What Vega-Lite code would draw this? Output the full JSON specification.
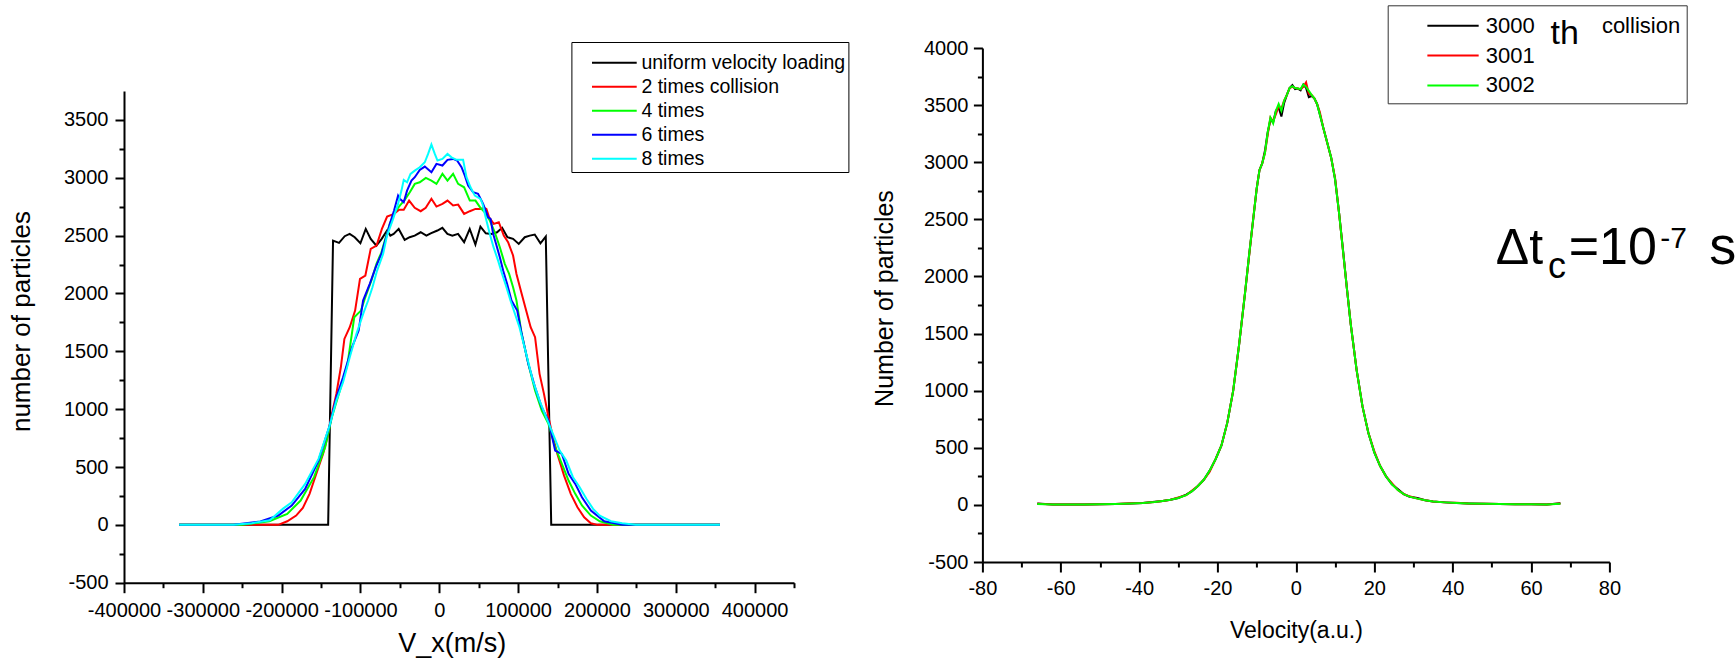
{
  "$schema": "https://vega.github.io/schema/vega-lite/v6.json",
  "autosize": {"type": "pad"},
  "padding": {"left": 8, "top": 4, "right": 0, "bottom": 14},
  "background": "white",
  "bounds": "flush",
  "spacing": 188.4,
  "config": {
    "view": {"stroke": null},
    "font": "Liberation Sans",
    "axis": {
      "domainColor": "black", "tickColor": "black", "labelColor": "black", "titleColor": "black",
      "titleFontWeight": "normal", "grid": false, "domainWidth": 2, "tickWidth": 2,
      "labelFlush": false, "labelOverlap": false, "labelFont": "Liberation Sans", "titleFont": "Liberation Sans"
    },
    "legend": {"labelFont": "Liberation Sans", "labelColor": "black"}
  },
  "resolve": {"scale": {"color": "independent"}, "legend": {"color": "independent"}},
  "datasets": {
    "left": [
      {"series": "uniform velocity loading", "v": -330000, "n": 0},
      {"series": "uniform velocity loading", "v": -141000, "n": 0},
      {"series": "uniform velocity loading", "v": -134800, "n": 2457},
      {"series": "uniform velocity loading", "v": -127200, "n": 2437},
      {"series": "uniform velocity loading", "v": -120000, "n": 2495},
      {"series": "uniform velocity loading", "v": -113700, "n": 2515},
      {"series": "uniform velocity loading", "v": -107300, "n": 2486},
      {"series": "uniform velocity loading", "v": -100100, "n": 2434},
      {"series": "uniform velocity loading", "v": -93300, "n": 2558},
      {"series": "uniform velocity loading", "v": -87000, "n": 2472},
      {"series": "uniform velocity loading", "v": -79800, "n": 2414},
      {"series": "uniform velocity loading", "v": -73100, "n": 2472},
      {"series": "uniform velocity loading", "v": -66300, "n": 2544},
      {"series": "uniform velocity loading", "v": -62100, "n": 2500},
      {"series": "uniform velocity loading", "v": -57900, "n": 2515},
      {"series": "uniform velocity loading", "v": -51500, "n": 2558},
      {"series": "uniform velocity loading", "v": -43900, "n": 2463},
      {"series": "uniform velocity loading", "v": -37600, "n": 2486},
      {"series": "uniform velocity loading", "v": -31200, "n": 2500},
      {"series": "uniform velocity loading", "v": -23600, "n": 2529},
      {"series": "uniform velocity loading", "v": -16400, "n": 2500},
      {"series": "uniform velocity loading", "v": -10900, "n": 2520},
      {"series": "uniform velocity loading", "v": -2400, "n": 2544},
      {"series": "uniform velocity loading", "v": 3900, "n": 2567},
      {"series": "uniform velocity loading", "v": 10300, "n": 2515},
      {"series": "uniform velocity loading", "v": 16600, "n": 2500},
      {"series": "uniform velocity loading", "v": 23800, "n": 2515},
      {"series": "uniform velocity loading", "v": 31500, "n": 2443},
      {"series": "uniform velocity loading", "v": 38600, "n": 2558},
      {"series": "uniform velocity loading", "v": 45800, "n": 2423},
      {"series": "uniform velocity loading", "v": 52200, "n": 2578},
      {"series": "uniform velocity loading", "v": 59000, "n": 2520},
      {"series": "uniform velocity loading", "v": 66100, "n": 2515},
      {"series": "uniform velocity loading", "v": 73300, "n": 2529},
      {"series": "uniform velocity loading", "v": 79700, "n": 2567},
      {"series": "uniform velocity loading", "v": 86400, "n": 2486},
      {"series": "uniform velocity loading", "v": 93600, "n": 2472},
      {"series": "uniform velocity loading", "v": 100800, "n": 2428},
      {"series": "uniform velocity loading", "v": 108400, "n": 2486},
      {"series": "uniform velocity loading", "v": 114800, "n": 2500},
      {"series": "uniform velocity loading", "v": 121100, "n": 2509},
      {"series": "uniform velocity loading", "v": 128300, "n": 2434},
      {"series": "uniform velocity loading", "v": 135100, "n": 2492},
      {"series": "uniform velocity loading", "v": 142000, "n": 0},
      {"series": "uniform velocity loading", "v": 356000, "n": 0},

      {"series": "2 times collision", "v": -330000, "n": 0},
      {"series": "2 times collision", "v": -204300, "n": 0},
      {"series": "2 times collision", "v": -192900, "n": 31},
      {"series": "2 times collision", "v": -181600, "n": 80},
      {"series": "2 times collision", "v": -173100, "n": 147},
      {"series": "2 times collision", "v": -164600, "n": 268},
      {"series": "2 times collision", "v": -158900, "n": 383},
      {"series": "2 times collision", "v": -147500, "n": 613},
      {"series": "2 times collision", "v": -141900, "n": 757},
      {"series": "2 times collision", "v": -136300, "n": 959},
      {"series": "2 times collision", "v": -130600, "n": 1132},
      {"series": "2 times collision", "v": -124900, "n": 1362},
      {"series": "2 times collision", "v": -120400, "n": 1607},
      {"series": "2 times collision", "v": -113600, "n": 1708},
      {"series": "2 times collision", "v": -106800, "n": 1852},
      {"series": "2 times collision", "v": -100600, "n": 2127},
      {"series": "2 times collision", "v": -93800, "n": 2155},
      {"series": "2 times collision", "v": -87000, "n": 2386},
      {"series": "2 times collision", "v": -79600, "n": 2414},
      {"series": "2 times collision", "v": -72800, "n": 2558},
      {"series": "2 times collision", "v": -66200, "n": 2665},
      {"series": "2 times collision", "v": -57400, "n": 2688},
      {"series": "2 times collision", "v": -51000, "n": 2723},
      {"series": "2 times collision", "v": -45100, "n": 2723},
      {"series": "2 times collision", "v": -38300, "n": 2803},
      {"series": "2 times collision", "v": -31200, "n": 2740},
      {"series": "2 times collision", "v": -23600, "n": 2711},
      {"series": "2 times collision", "v": -17200, "n": 2740},
      {"series": "2 times collision", "v": -10000, "n": 2818},
      {"series": "2 times collision", "v": -3600, "n": 2751},
      {"series": "2 times collision", "v": 4000, "n": 2774},
      {"series": "2 times collision", "v": 10400, "n": 2803},
      {"series": "2 times collision", "v": 17500, "n": 2760},
      {"series": "2 times collision", "v": 23900, "n": 2768},
      {"series": "2 times collision", "v": 31500, "n": 2688},
      {"series": "2 times collision", "v": 38700, "n": 2711},
      {"series": "2 times collision", "v": 45900, "n": 2731},
      {"series": "2 times collision", "v": 52200, "n": 2731},
      {"series": "2 times collision", "v": 56800, "n": 2740},
      {"series": "2 times collision", "v": 59800, "n": 2731},
      {"series": "2 times collision", "v": 63200, "n": 2659},
      {"series": "2 times collision", "v": 69100, "n": 2601},
      {"series": "2 times collision", "v": 75500, "n": 2616},
      {"series": "2 times collision", "v": 81800, "n": 2500},
      {"series": "2 times collision", "v": 87300, "n": 2443},
      {"series": "2 times collision", "v": 93600, "n": 2328},
      {"series": "2 times collision", "v": 97900, "n": 2169},
      {"series": "2 times collision", "v": 104500, "n": 1997},
      {"series": "2 times collision", "v": 110200, "n": 1852},
      {"series": "2 times collision", "v": 115900, "n": 1708},
      {"series": "2 times collision", "v": 121500, "n": 1622},
      {"series": "2 times collision", "v": 127200, "n": 1305},
      {"series": "2 times collision", "v": 132800, "n": 1132},
      {"series": "2 times collision", "v": 138500, "n": 930},
      {"series": "2 times collision", "v": 144200, "n": 757},
      {"series": "2 times collision", "v": 149800, "n": 613},
      {"series": "2 times collision", "v": 158300, "n": 426},
      {"series": "2 times collision", "v": 166800, "n": 268},
      {"series": "2 times collision", "v": 175300, "n": 152},
      {"series": "2 times collision", "v": 183800, "n": 66},
      {"series": "2 times collision", "v": 192300, "n": 14},
      {"series": "2 times collision", "v": 200800, "n": 0},
      {"series": "2 times collision", "v": 356000, "n": 0},

      {"series": "4 times", "v": -330000, "n": 0},
      {"series": "4 times", "v": -250000, "n": 0},
      {"series": "4 times", "v": -215600, "n": 31},
      {"series": "4 times", "v": -192900, "n": 95},
      {"series": "4 times", "v": -175900, "n": 210},
      {"series": "4 times", "v": -158900, "n": 412},
      {"series": "4 times", "v": -144800, "n": 671},
      {"series": "4 times", "v": -136300, "n": 930},
      {"series": "4 times", "v": -124900, "n": 1189},
      {"series": "4 times", "v": -116400, "n": 1391},
      {"series": "4 times", "v": -107900, "n": 1794},
      {"series": "4 times", "v": -99400, "n": 1852},
      {"series": "4 times", "v": -94600, "n": 1953},
      {"series": "4 times", "v": -86100, "n": 2112},
      {"series": "4 times", "v": -79700, "n": 2256},
      {"series": "4 times", "v": -73400, "n": 2356},
      {"series": "4 times", "v": -67900, "n": 2486},
      {"series": "4 times", "v": -62800, "n": 2601},
      {"series": "4 times", "v": -56500, "n": 2702},
      {"series": "4 times", "v": -50100, "n": 2760},
      {"series": "4 times", "v": -43800, "n": 2809},
      {"series": "4 times", "v": -37400, "n": 2875},
      {"series": "4 times", "v": -31100, "n": 2947},
      {"series": "4 times", "v": -24800, "n": 2961},
      {"series": "4 times", "v": -17100, "n": 2999},
      {"series": "4 times", "v": -10000, "n": 2976},
      {"series": "4 times", "v": -3600, "n": 2947},
      {"series": "4 times", "v": 4000, "n": 3034},
      {"series": "4 times", "v": 10400, "n": 2976},
      {"series": "4 times", "v": 17500, "n": 3034},
      {"series": "4 times", "v": 23900, "n": 2947},
      {"series": "4 times", "v": 31500, "n": 2918},
      {"series": "4 times", "v": 38700, "n": 2803},
      {"series": "4 times", "v": 45900, "n": 2803},
      {"series": "4 times", "v": 52200, "n": 2740},
      {"series": "4 times", "v": 57700, "n": 2702},
      {"series": "4 times", "v": 64100, "n": 2630},
      {"series": "4 times", "v": 70400, "n": 2529},
      {"series": "4 times", "v": 76800, "n": 2400},
      {"series": "4 times", "v": 83100, "n": 2256},
      {"series": "4 times", "v": 88600, "n": 2169},
      {"series": "4 times", "v": 93600, "n": 2054},
      {"series": "4 times", "v": 97900, "n": 1939},
      {"series": "4 times", "v": 104500, "n": 1651},
      {"series": "4 times", "v": 113000, "n": 1391},
      {"series": "4 times", "v": 121500, "n": 1161},
      {"series": "4 times", "v": 130000, "n": 988},
      {"series": "4 times", "v": 138500, "n": 873},
      {"series": "4 times", "v": 147000, "n": 671},
      {"series": "4 times", "v": 155500, "n": 527},
      {"series": "4 times", "v": 164000, "n": 383},
      {"series": "4 times", "v": 172500, "n": 268},
      {"series": "4 times", "v": 181000, "n": 167},
      {"series": "4 times", "v": 192300, "n": 80},
      {"series": "4 times", "v": 203600, "n": 31},
      {"series": "4 times", "v": 220600, "n": 0},
      {"series": "4 times", "v": 356000, "n": 0},

      {"series": "6 times", "v": -330000, "n": 0},
      {"series": "6 times", "v": -261000, "n": 0},
      {"series": "6 times", "v": -227000, "n": 29},
      {"series": "6 times", "v": -204300, "n": 81},
      {"series": "6 times", "v": -187200, "n": 167},
      {"series": "6 times", "v": -170200, "n": 311},
      {"series": "6 times", "v": -153200, "n": 556},
      {"series": "6 times", "v": -139100, "n": 858},
      {"series": "6 times", "v": -130600, "n": 1103},
      {"series": "6 times", "v": -122100, "n": 1276},
      {"series": "6 times", "v": -110800, "n": 1535},
      {"series": "6 times", "v": -102300, "n": 1679},
      {"series": "6 times", "v": -96700, "n": 1939},
      {"series": "6 times", "v": -88200, "n": 2083},
      {"series": "6 times", "v": -80600, "n": 2227},
      {"series": "6 times", "v": -73400, "n": 2342},
      {"series": "6 times", "v": -67900, "n": 2472},
      {"series": "6 times", "v": -62800, "n": 2601},
      {"series": "6 times", "v": -57400, "n": 2717},
      {"series": "6 times", "v": -52300, "n": 2846},
      {"series": "6 times", "v": -50100, "n": 2818},
      {"series": "6 times", "v": -45100, "n": 2788},
      {"series": "6 times", "v": -40900, "n": 2889},
      {"series": "6 times", "v": -35300, "n": 2976},
      {"series": "6 times", "v": -31100, "n": 3005},
      {"series": "6 times", "v": -24800, "n": 3068},
      {"series": "6 times", "v": -18400, "n": 3097},
      {"series": "6 times", "v": -10000, "n": 3048},
      {"series": "6 times", "v": -3600, "n": 3120},
      {"series": "6 times", "v": 4000, "n": 3106},
      {"series": "6 times", "v": 10400, "n": 3155},
      {"series": "6 times", "v": 17500, "n": 3163},
      {"series": "6 times", "v": 22600, "n": 3149},
      {"series": "6 times", "v": 28200, "n": 3091},
      {"series": "6 times", "v": 32400, "n": 3019},
      {"series": "6 times", "v": 36600, "n": 2933},
      {"series": "6 times", "v": 42900, "n": 2875},
      {"series": "6 times", "v": 49200, "n": 2861},
      {"series": "6 times", "v": 55600, "n": 2774},
      {"series": "6 times", "v": 61900, "n": 2659},
      {"series": "6 times", "v": 65000, "n": 2645},
      {"series": "6 times", "v": 68300, "n": 2515},
      {"series": "6 times", "v": 72600, "n": 2414},
      {"series": "6 times", "v": 76800, "n": 2313},
      {"series": "6 times", "v": 81000, "n": 2198},
      {"series": "6 times", "v": 86000, "n": 2083},
      {"series": "6 times", "v": 91600, "n": 1939},
      {"series": "6 times", "v": 98900, "n": 1852},
      {"series": "6 times", "v": 104500, "n": 1651},
      {"series": "6 times", "v": 113000, "n": 1391},
      {"series": "6 times", "v": 121500, "n": 1189},
      {"series": "6 times", "v": 130000, "n": 1016},
      {"series": "6 times", "v": 138500, "n": 901},
      {"series": "6 times", "v": 147000, "n": 642},
      {"series": "6 times", "v": 155500, "n": 613},
      {"series": "6 times", "v": 164000, "n": 441},
      {"series": "6 times", "v": 172500, "n": 354},
      {"series": "6 times", "v": 181000, "n": 239},
      {"series": "6 times", "v": 192300, "n": 124},
      {"series": "6 times", "v": 209300, "n": 31},
      {"series": "6 times", "v": 232000, "n": 0},
      {"series": "6 times", "v": 356000, "n": 0},

      {"series": "8 times", "v": -330000, "n": 0},
      {"series": "8 times", "v": -261000, "n": 0},
      {"series": "8 times", "v": -238000, "n": 14},
      {"series": "8 times", "v": -215000, "n": 40},
      {"series": "8 times", "v": -198600, "n": 138},
      {"series": "8 times", "v": -187200, "n": 195},
      {"series": "8 times", "v": -170200, "n": 354},
      {"series": "8 times", "v": -153200, "n": 570},
      {"series": "8 times", "v": -139100, "n": 858},
      {"series": "8 times", "v": -130600, "n": 1074},
      {"series": "8 times", "v": -122100, "n": 1233},
      {"series": "8 times", "v": -113600, "n": 1449},
      {"series": "8 times", "v": -105100, "n": 1651},
      {"series": "8 times", "v": -96600, "n": 1823},
      {"series": "8 times", "v": -90300, "n": 1939},
      {"series": "8 times", "v": -84800, "n": 2054},
      {"series": "8 times", "v": -78900, "n": 2198},
      {"series": "8 times", "v": -71300, "n": 2342},
      {"series": "8 times", "v": -66300, "n": 2500},
      {"series": "8 times", "v": -58600, "n": 2645},
      {"series": "8 times", "v": -52300, "n": 2774},
      {"series": "8 times", "v": -48000, "n": 2889},
      {"series": "8 times", "v": -45100, "n": 2982},
      {"series": "8 times", "v": -40900, "n": 2961},
      {"series": "8 times", "v": -36500, "n": 3034},
      {"series": "8 times", "v": -31100, "n": 3062},
      {"series": "8 times", "v": -24800, "n": 3091},
      {"series": "8 times", "v": -18400, "n": 3134},
      {"series": "8 times", "v": -14200, "n": 3206},
      {"series": "8 times", "v": -10000, "n": 3287},
      {"series": "8 times", "v": -5700, "n": 3206},
      {"series": "8 times", "v": -2300, "n": 3149},
      {"series": "8 times", "v": 4000, "n": 3163},
      {"series": "8 times", "v": 10400, "n": 3206},
      {"series": "8 times", "v": 15500, "n": 3177},
      {"series": "8 times", "v": 21800, "n": 3155},
      {"series": "8 times", "v": 30200, "n": 3155},
      {"series": "8 times", "v": 34500, "n": 3005},
      {"series": "8 times", "v": 39600, "n": 2918},
      {"series": "8 times", "v": 45100, "n": 2846},
      {"series": "8 times", "v": 52200, "n": 2818},
      {"series": "8 times", "v": 54800, "n": 2774},
      {"series": "8 times", "v": 59800, "n": 2630},
      {"series": "8 times", "v": 64100, "n": 2515},
      {"series": "8 times", "v": 68800, "n": 2400},
      {"series": "8 times", "v": 74600, "n": 2284},
      {"series": "8 times", "v": 79700, "n": 2169},
      {"series": "8 times", "v": 85200, "n": 2054},
      {"series": "8 times", "v": 90300, "n": 1939},
      {"series": "8 times", "v": 101700, "n": 1708},
      {"series": "8 times", "v": 110200, "n": 1478},
      {"series": "8 times", "v": 118700, "n": 1247},
      {"series": "8 times", "v": 127200, "n": 1074},
      {"series": "8 times", "v": 135700, "n": 930},
      {"series": "8 times", "v": 144200, "n": 786},
      {"series": "8 times", "v": 152700, "n": 642},
      {"series": "8 times", "v": 161100, "n": 556},
      {"series": "8 times", "v": 169600, "n": 412},
      {"series": "8 times", "v": 178100, "n": 325},
      {"series": "8 times", "v": 186600, "n": 225},
      {"series": "8 times", "v": 195100, "n": 138},
      {"series": "8 times", "v": 203600, "n": 80},
      {"series": "8 times", "v": 217800, "n": 31},
      {"series": "8 times", "v": 232000, "n": 14},
      {"series": "8 times", "v": 249000, "n": 0},
      {"series": "8 times", "v": 356000, "n": 0}
    ],
    "right": [
      {"series": "3000", "v": -66, "n": 12}, {"series": "3000", "v": -62, "n": 3}, {"series": "3000", "v": -58, "n": 4}, {"series": "3000", "v": -54, "n": 4},
      {"series": "3000", "v": -50, "n": 6}, {"series": "3000", "v": -46, "n": 8}, {"series": "3000", "v": -42, "n": 12}, {"series": "3000", "v": -39, "n": 17},
      {"series": "3000", "v": -36, "n": 28}, {"series": "3000", "v": -34, "n": 35}, {"series": "3000", "v": -32, "n": 45}, {"series": "3000", "v": -30, "n": 60},
      {"series": "3000", "v": -28, "n": 90}, {"series": "3000", "v": -26.5, "n": 120}, {"series": "3000", "v": -25, "n": 165}, {"series": "3000", "v": -23.5, "n": 220},
      {"series": "3000", "v": -22, "n": 300}, {"series": "3000", "v": -20.5, "n": 400}, {"series": "3000", "v": -19, "n": 520}, {"series": "3000", "v": -17.5, "n": 720},
      {"series": "3000", "v": -16, "n": 1000}, {"series": "3000", "v": -14.5, "n": 1400}, {"series": "3000", "v": -13, "n": 1850}, {"series": "3000", "v": -12, "n": 2170},
      {"series": "3000", "v": -11, "n": 2470}, {"series": "3000", "v": -10, "n": 2770}, {"series": "3000", "v": -9.3, "n": 2930}, {"series": "3000", "v": -8.6, "n": 2990},
      {"series": "3000", "v": -7.9, "n": 3100}, {"series": "3000", "v": -7.2, "n": 3260}, {"series": "3000", "v": -6.5, "n": 3370}, {"series": "3000", "v": -5.8, "n": 3350},
      {"series": "3000", "v": -5.1, "n": 3450}, {"series": "3000", "v": -4.4, "n": 3480}, {"series": "3000", "v": -3.7, "n": 3400}, {"series": "3000", "v": -3.0, "n": 3520},
      {"series": "3000", "v": -2.3, "n": 3590}, {"series": "3000", "v": -1.6, "n": 3650}, {"series": "3000", "v": -0.9, "n": 3675}, {"series": "3000", "v": -0.2, "n": 3640},
      {"series": "3000", "v": 0.5, "n": 3645}, {"series": "3000", "v": 1.2, "n": 3630}, {"series": "3000", "v": 1.9, "n": 3680}, {"series": "3000", "v": 2.6, "n": 3650},
      {"series": "3000", "v": 3.3, "n": 3570}, {"series": "3000", "v": 4.0, "n": 3580}, {"series": "3000", "v": 4.7, "n": 3560}, {"series": "3000", "v": 5.4, "n": 3510},
      {"series": "3000", "v": 6.1, "n": 3420}, {"series": "3000", "v": 7, "n": 3300}, {"series": "3000", "v": 8, "n": 3170}, {"series": "3000", "v": 9, "n": 3040},
      {"series": "3000", "v": 10, "n": 2850}, {"series": "3000", "v": 11, "n": 2560}, {"series": "3000", "v": 12, "n": 2240}, {"series": "3000", "v": 13, "n": 1900},
      {"series": "3000", "v": 14, "n": 1580}, {"series": "3000", "v": 15.5, "n": 1180}, {"series": "3000", "v": 17, "n": 860}, {"series": "3000", "v": 18.5, "n": 630},
      {"series": "3000", "v": 20, "n": 460}, {"series": "3000", "v": 21.5, "n": 340}, {"series": "3000", "v": 23, "n": 250}, {"series": "3000", "v": 24.5, "n": 180},
      {"series": "3000", "v": 26, "n": 140}, {"series": "3000", "v": 27.5, "n": 95}, {"series": "3000", "v": 29, "n": 72}, {"series": "3000", "v": 31, "n": 60},
      {"series": "3000", "v": 33, "n": 40}, {"series": "3000", "v": 35, "n": 30}, {"series": "3000", "v": 38, "n": 22}, {"series": "3000", "v": 41, "n": 16},
      {"series": "3000", "v": 44, "n": 12}, {"series": "3000", "v": 48, "n": 9}, {"series": "3000", "v": 52, "n": 8}, {"series": "3000", "v": 56, "n": 6},
      {"series": "3000", "v": 60, "n": 5}, {"series": "3000", "v": 64, "n": 4}, {"series": "3000", "v": 67.5, "n": 14},

      {"series": "3001", "v": -66, "n": 10}, {"series": "3001", "v": -62, "n": 3}, {"series": "3001", "v": -58, "n": 4}, {"series": "3001", "v": -54, "n": 4},
      {"series": "3001", "v": -50, "n": 6}, {"series": "3001", "v": -46, "n": 8}, {"series": "3001", "v": -42, "n": 15}, {"series": "3001", "v": -39, "n": 17},
      {"series": "3001", "v": -36, "n": 25}, {"series": "3001", "v": -34, "n": 35}, {"series": "3001", "v": -32, "n": 45}, {"series": "3001", "v": -30, "n": 65},
      {"series": "3001", "v": -28, "n": 85}, {"series": "3001", "v": -26.5, "n": 125}, {"series": "3001", "v": -25, "n": 165}, {"series": "3001", "v": -23.5, "n": 220},
      {"series": "3001", "v": -22, "n": 290}, {"series": "3001", "v": -20.5, "n": 400}, {"series": "3001", "v": -19, "n": 520}, {"series": "3001", "v": -17.5, "n": 720},
      {"series": "3001", "v": -16, "n": 1000}, {"series": "3001", "v": -14.5, "n": 1400}, {"series": "3001", "v": -13, "n": 1850}, {"series": "3001", "v": -12, "n": 2160},
      {"series": "3001", "v": -11, "n": 2470}, {"series": "3001", "v": -10, "n": 2770}, {"series": "3001", "v": -9.3, "n": 2930}, {"series": "3001", "v": -8.6, "n": 2990},
      {"series": "3001", "v": -7.9, "n": 3080}, {"series": "3001", "v": -7.2, "n": 3240}, {"series": "3001", "v": -6.5, "n": 3390}, {"series": "3001", "v": -5.8, "n": 3360},
      {"series": "3001", "v": -5.1, "n": 3420}, {"series": "3001", "v": -4.4, "n": 3490}, {"series": "3001", "v": -3.7, "n": 3470}, {"series": "3001", "v": -3.0, "n": 3540},
      {"series": "3001", "v": -2.3, "n": 3590}, {"series": "3001", "v": -1.6, "n": 3650}, {"series": "3001", "v": -0.9, "n": 3660}, {"series": "3001", "v": -0.2, "n": 3650},
      {"series": "3001", "v": 0.5, "n": 3645}, {"series": "3001", "v": 1.2, "n": 3640}, {"series": "3001", "v": 1.9, "n": 3660}, {"series": "3001", "v": 2.6, "n": 3700},
      {"series": "3001", "v": 3.3, "n": 3600}, {"series": "3001", "v": 4.0, "n": 3590}, {"series": "3001", "v": 4.7, "n": 3560}, {"series": "3001", "v": 5.4, "n": 3510},
      {"series": "3001", "v": 6.1, "n": 3440}, {"series": "3001", "v": 7, "n": 3300}, {"series": "3001", "v": 8, "n": 3170}, {"series": "3001", "v": 9, "n": 3040},
      {"series": "3001", "v": 10, "n": 2860}, {"series": "3001", "v": 11, "n": 2560}, {"series": "3001", "v": 12, "n": 2230}, {"series": "3001", "v": 13, "n": 1900},
      {"series": "3001", "v": 14, "n": 1580}, {"series": "3001", "v": 15.5, "n": 1180}, {"series": "3001", "v": 17, "n": 860}, {"series": "3001", "v": 18.5, "n": 630},
      {"series": "3001", "v": 20, "n": 470}, {"series": "3001", "v": 21.5, "n": 340}, {"series": "3001", "v": 23, "n": 250}, {"series": "3001", "v": 24.5, "n": 190},
      {"series": "3001", "v": 26, "n": 130}, {"series": "3001", "v": 27.5, "n": 95}, {"series": "3001", "v": 29, "n": 75}, {"series": "3001", "v": 31, "n": 55},
      {"series": "3001", "v": 33, "n": 40}, {"series": "3001", "v": 35, "n": 30}, {"series": "3001", "v": 38, "n": 22}, {"series": "3001", "v": 41, "n": 18},
      {"series": "3001", "v": 44, "n": 12}, {"series": "3001", "v": 48, "n": 9}, {"series": "3001", "v": 52, "n": 7}, {"series": "3001", "v": 56, "n": 6},
      {"series": "3001", "v": 60, "n": 5}, {"series": "3001", "v": 64, "n": 4}, {"series": "3001", "v": 67.5, "n": 12},

      {"series": "3002", "v": -66, "n": 8}, {"series": "3002", "v": -62, "n": 3}, {"series": "3002", "v": -58, "n": 4}, {"series": "3002", "v": -54, "n": 4},
      {"series": "3002", "v": -50, "n": 6}, {"series": "3002", "v": -46, "n": 8}, {"series": "3002", "v": -42, "n": 12}, {"series": "3002", "v": -39, "n": 17},
      {"series": "3002", "v": -36, "n": 25}, {"series": "3002", "v": -34, "n": 35}, {"series": "3002", "v": -32, "n": 45}, {"series": "3002", "v": -30, "n": 60},
      {"series": "3002", "v": -28, "n": 85}, {"series": "3002", "v": -26.5, "n": 120}, {"series": "3002", "v": -25, "n": 165}, {"series": "3002", "v": -23.5, "n": 220},
      {"series": "3002", "v": -22, "n": 300}, {"series": "3002", "v": -20.5, "n": 400}, {"series": "3002", "v": -19, "n": 520}, {"series": "3002", "v": -17.5, "n": 720},
      {"series": "3002", "v": -16, "n": 1000}, {"series": "3002", "v": -14.5, "n": 1400}, {"series": "3002", "v": -13, "n": 1850}, {"series": "3002", "v": -12, "n": 2170},
      {"series": "3002", "v": -11, "n": 2470}, {"series": "3002", "v": -10, "n": 2770}, {"series": "3002", "v": -9.3, "n": 2930}, {"series": "3002", "v": -8.6, "n": 2990},
      {"series": "3002", "v": -7.9, "n": 3080}, {"series": "3002", "v": -7.2, "n": 3260}, {"series": "3002", "v": -6.5, "n": 3390}, {"series": "3002", "v": -5.8, "n": 3340},
      {"series": "3002", "v": -5.1, "n": 3450}, {"series": "3002", "v": -4.4, "n": 3510}, {"series": "3002", "v": -3.7, "n": 3450}, {"series": "3002", "v": -3.0, "n": 3540},
      {"series": "3002", "v": -2.3, "n": 3590}, {"series": "3002", "v": -1.6, "n": 3650}, {"series": "3002", "v": -0.9, "n": 3665}, {"series": "3002", "v": -0.2, "n": 3650},
      {"series": "3002", "v": 0.5, "n": 3645}, {"series": "3002", "v": 1.2, "n": 3640}, {"series": "3002", "v": 1.9, "n": 3680}, {"series": "3002", "v": 2.6, "n": 3660},
      {"series": "3002", "v": 3.3, "n": 3625}, {"series": "3002", "v": 4.0, "n": 3590}, {"series": "3002", "v": 4.7, "n": 3560}, {"series": "3002", "v": 5.4, "n": 3510},
      {"series": "3002", "v": 6.1, "n": 3420}, {"series": "3002", "v": 7, "n": 3300}, {"series": "3002", "v": 8, "n": 3170}, {"series": "3002", "v": 9, "n": 3040},
      {"series": "3002", "v": 10, "n": 2850}, {"series": "3002", "v": 11, "n": 2560}, {"series": "3002", "v": 12, "n": 2230}, {"series": "3002", "v": 13, "n": 1900},
      {"series": "3002", "v": 14, "n": 1580}, {"series": "3002", "v": 15.5, "n": 1180}, {"series": "3002", "v": 17, "n": 860}, {"series": "3002", "v": 18.5, "n": 630},
      {"series": "3002", "v": 20, "n": 460}, {"series": "3002", "v": 21.5, "n": 340}, {"series": "3002", "v": 23, "n": 250}, {"series": "3002", "v": 24.5, "n": 180},
      {"series": "3002", "v": 26, "n": 130}, {"series": "3002", "v": 27.5, "n": 95}, {"series": "3002", "v": 29, "n": 72}, {"series": "3002", "v": 31, "n": 55},
      {"series": "3002", "v": 33, "n": 40}, {"series": "3002", "v": 35, "n": 30}, {"series": "3002", "v": 38, "n": 22}, {"series": "3002", "v": 41, "n": 16},
      {"series": "3002", "v": 44, "n": 12}, {"series": "3002", "v": 48, "n": 9}, {"series": "3002", "v": 52, "n": 7}, {"series": "3002", "v": 56, "n": 6},
      {"series": "3002", "v": 60, "n": 5}, {"series": "3002", "v": 64, "n": 4}, {"series": "3002", "v": 67.5, "n": 10}
    ]
  },
  "hconcat": [
    {
      "width": 670,
      "height": 534.7,
      "resolve": {"axis": {"x": "independent", "y": "independent"}},
      "layer": [
        {
          "data": {"name": "left"},
          "mark": {"type": "line", "strokeWidth": 2},
          "encoding": {
            "x": {
              "field": "v", "type": "quantitative",
              "scale": {"domain": [-400000, 450000], "nice": false, "zero": false},
              "axis": {
                "orient": "bottom",
                "values": [-400000, -300000, -200000, -100000, 0, 100000, 200000, 300000, 400000],
                "labelExpr": "datum.value < 0 ? '-' + abs(datum.value) : '' + datum.value",
                "tickSize": 10, "labelPadding": 7.5, "labelFontSize": 20,
                "title": "V_x(m/s)", "titleFontSize": 27, "titleX": 327.7, "titleY": 60.3, "titleBaseline": "middle"
              }
            },
            "y": {
              "field": "n", "type": "quantitative",
              "scale": {"domain": [-500, 3750], "range": [534.7, 43], "nice": false, "zero": false},
              "axis": {
                "orient": "left",
                "values": [-500, 0, 500, 1000, 1500, 2000, 2500, 3000, 3500],
                "labelExpr": "datum.value < 0 ? '-' + abs(datum.value) : '' + datum.value",
                "tickSize": 9, "labelPadding": 7, "labelFontSize": 20,
                "title": "number of particles", "titleFontSize": 26, "titleX": -102.3, "titleY": 273, "titleBaseline": "middle"
              }
            },
            "color": {
              "field": "series", "type": "nominal",
              "scale": {
                "domain": ["uniform velocity loading", "2 times collision", "4 times", "6 times", "8 times"],
                "range": ["#000000", "#ff0000", "#00ff00", "#0000ff", "#00ffff"]
              },
              "legend": {
                "orient": "none", "legendX": 447.4, "legendY": -6,
                "title": " ", "titleFontSize": 1, "titlePadding": 7,
                "symbolType": "M1.9625,0H13.14", "symbolSize": 64, "symbolStrokeWidth": 2,
                "symbolOffset": 0, "labelOffset": 47.5, "labelFontSize": 19.5, "labelLimit": 400,
                "rowPadding": 3, "padding": 3, "strokeColor": "black"
              }
            }
          }
        },
        {
          "data": {"values": [{}]},
          "mark": {"type": "point", "opacity": 0},
          "encoding": {
            "x": {
              "datum": 0, "type": "quantitative",
              "axis": {
                "orient": "bottom", "values": [-350000, -250000, -150000, -50000, 50000, 150000, 250000, 350000, 450000],
                "labels": false, "domain": false, "tickSize": 5, "title": null
              }
            },
            "y": {
              "datum": 0, "type": "quantitative",
              "axis": {
                "orient": "left", "values": [-250, 250, 750, 1250, 1750, 2250, 2750, 3250],
                "labels": false, "domain": false, "tickSize": 5, "title": null
              }
            }
          }
        }
      ]
    },
    {
      "width": 627,
      "height": 514,
      "resolve": {"axis": {"x": "independent", "y": "independent"}},
      "layer": [
        {
          "data": {"name": "right"},
          "mark": {"type": "line", "strokeWidth": 2},
          "encoding": {
            "x": {
              "field": "v", "type": "quantitative",
              "scale": {"domain": [-80, 80], "nice": false, "zero": false},
              "axis": {
                "orient": "bottom",
                "values": [-80, -60, -40, -20, 0, 20, 40, 60, 80],
                "labelExpr": "datum.value < 0 ? '-' + abs(datum.value) : '' + datum.value",
                "tickSize": 10, "labelPadding": 6, "labelFontSize": 20,
                "title": "Velocity(a.u.)", "titleFontSize": 23, "titleX": 313.5, "titleY": 68, "titleBaseline": "middle"
              }
            },
            "y": {
              "field": "n", "type": "quantitative",
              "scale": {"domain": [-500, 4000], "nice": false, "zero": false},
              "axis": {
                "orient": "left",
                "values": [-500, 0, 500, 1000, 1500, 2000, 2500, 3000, 3500, 4000],
                "labelExpr": "datum.value < 0 ? '-' + abs(datum.value) : '' + datum.value",
                "tickSize": 9, "labelPadding": 5.5, "labelFontSize": 20,
                "title": "Number of particles", "titleFontSize": 25, "titleX": -97.7, "titleY": 250, "titleBaseline": "middle"
              }
            },
            "color": {
              "field": "series", "type": "nominal",
              "scale": {"domain": ["3000", "3001", "3002"], "range": ["#000000", "#ff0000", "#00ff00"]},
              "legend": {
                "orient": "none", "legendX": 405.3, "legendY": -42.7, "title": null,
                "symbolType": "M1.42,0H5.22", "symbolSize": 729, "symbolStrokeWidth": 2,
                "symbolOffset": 0, "labelOffset": 63, "labelFontSize": 22, "labelLimit": 400,
                "labelExpr": "datum.label === '3000' ? '3000\u00a0\u00a0\u00a0\u00a0\u00a0\u00a0\u00a0\u00a0\u00a0\u00a0\u00a0collision' : datum.label",
                "rowPadding": 3.8, "padding": 6, "strokeColor": "#333333"
              }
            }
          }
        },
        {
          "data": {"values": [{}]},
          "mark": {"type": "point", "opacity": 0},
          "encoding": {
            "x": {
              "datum": 0, "type": "quantitative",
              "axis": {
                "orient": "bottom", "values": [-70, -50, -30, -10, 10, 30, 50, 70],
                "labels": false, "domain": false, "tickSize": 5, "title": null
              }
            },
            "y": {
              "datum": 0, "type": "quantitative",
              "axis": {
                "orient": "left", "values": [-250, 250, 750, 1250, 1750, 2250, 2750, 3250, 3750],
                "labels": false, "domain": false, "tickSize": 5, "title": null
              }
            }
          }
        },
        {
          "data": {"values": [{}]},
          "mark": {"type": "text", "text": "th", "fontSize": 34, "align": "left", "baseline": "alphabetic", "color": "black"},
          "encoding": {
            "x": {"datum": 65.0, "type": "quantitative", "axis": null},
            "y": {"datum": 4032, "type": "quantitative", "axis": null}
          }
        },
        {
          "data": {"values": [{}]},
          "mark": {"type": "text", "text": "Δt", "fontSize": 50, "align": "left", "baseline": "alphabetic", "color": "black"},
          "encoding": {
            "x": {"datum": 51.0, "type": "quantitative", "axis": null},
            "y": {"datum": 2111, "type": "quantitative", "axis": null}
          }
        },
        {
          "data": {"values": [{}]},
          "mark": {"type": "text", "text": "c", "fontSize": 36, "align": "left", "baseline": "alphabetic", "color": "black"},
          "encoding": {
            "x": {"datum": 64.3, "type": "quantitative", "axis": null},
            "y": {"datum": 1985, "type": "quantitative", "axis": null}
          }
        },
        {
          "data": {"values": [{}]},
          "mark": {"type": "text", "text": "=10", "fontSize": 52, "align": "left", "baseline": "alphabetic", "color": "black"},
          "encoding": {
            "x": {"datum": 69.6, "type": "quantitative", "axis": null},
            "y": {"datum": 2111, "type": "quantitative", "axis": null}
          }
        },
        {
          "data": {"values": [{}]},
          "mark": {"type": "text", "text": "-7", "fontSize": 30, "align": "left", "baseline": "alphabetic", "color": "black"},
          "encoding": {
            "x": {"datum": 93.0, "type": "quantitative", "axis": null},
            "y": {"datum": 2252, "type": "quantitative", "axis": null}
          }
        },
        {
          "data": {"values": [{}]},
          "mark": {"type": "text", "text": "s", "fontSize": 54, "align": "left", "baseline": "alphabetic", "color": "black"},
          "encoding": {
            "x": {"datum": 105.5, "type": "quantitative", "axis": null},
            "y": {"datum": 2111, "type": "quantitative", "axis": null}
          }
        }
      ]
    }
  ]
}
